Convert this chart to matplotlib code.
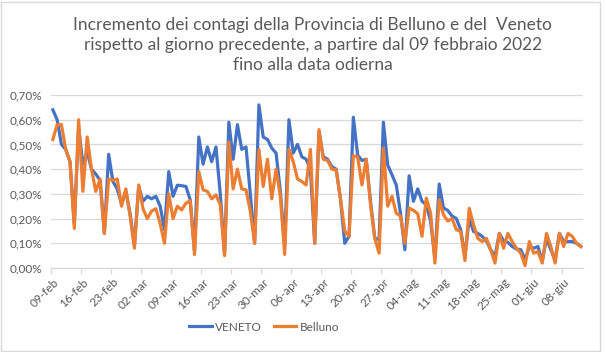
import numpy as np
import pandas as pd
import matplotlib
matplotlib.use("Agg")
import matplotlib.pyplot as plt
from matplotlib.ticker import FuncFormatter, FixedLocator
from matplotlib.patches import Rectangle

# valori giornalieri in %, dal 09-feb-2022 al 12-giu-2022
veneto = [0.64, 0.60, 0.50, 0.48, 0.43, 0.18, 0.57, 0.42, 0.47, 0.40,
          0.38, 0.355, 0.14, 0.46, 0.35, 0.32, 0.26, 0.31, 0.22, 0.09,
          0.33, 0.27, 0.29, 0.28, 0.29, 0.25, 0.155, 0.39, 0.29, 0.335,
          0.333, 0.33, 0.276, 0.07, 0.53, 0.42, 0.49, 0.43, 0.49, 0.30,
          0.055, 0.59, 0.44, 0.58, 0.48, 0.49, 0.30, 0.10, 0.66, 0.53,
          0.52, 0.485, 0.465, 0.31, 0.09, 0.60, 0.465, 0.50, 0.45, 0.44,
          0.40, 0.10, 0.55, 0.45, 0.44, 0.41, 0.40, 0.28, 0.10, 0.128,
          0.61, 0.457, 0.435, 0.44, 0.27, 0.12, 0.115, 0.59, 0.417, 0.377,
          0.336, 0.22, 0.074, 0.373, 0.27, 0.32, 0.27, 0.256, 0.19, 0.04,
          0.34, 0.243, 0.233, 0.21, 0.20, 0.155, 0.05, 0.20, 0.148, 0.14,
          0.128, 0.11, 0.074, 0.047, 0.14, 0.11, 0.104, 0.087, 0.077, 0.074,
          0.034, 0.087, 0.08, 0.087, 0.027, 0.12, 0.074, 0.034, 0.14, 0.107,
          0.107, 0.107, 0.10, 0.087]

belluno = [0.52, 0.58, 0.58, 0.48, 0.43, 0.16, 0.60, 0.31, 0.53, 0.40,
           0.31, 0.36, 0.14, 0.36, 0.355, 0.36, 0.25, 0.32, 0.21, 0.08,
           0.336, 0.24, 0.20, 0.23, 0.24, 0.18, 0.10, 0.30, 0.20, 0.25,
           0.235, 0.262, 0.272, 0.054, 0.39, 0.316, 0.31, 0.28, 0.296, 0.256,
           0.05, 0.51, 0.32, 0.40, 0.32, 0.316, 0.23, 0.10, 0.48, 0.33,
           0.44, 0.28, 0.40, 0.29, 0.055, 0.48, 0.43, 0.36, 0.35, 0.336,
           0.48, 0.10, 0.56, 0.44, 0.435, 0.40, 0.397, 0.28, 0.15, 0.128,
           0.454, 0.45, 0.336, 0.44, 0.256, 0.12, 0.06, 0.485, 0.25, 0.29,
           0.222, 0.21, 0.10, 0.243, 0.233, 0.22, 0.128, 0.283, 0.222, 0.02,
           0.276, 0.215, 0.19, 0.20, 0.155, 0.148, 0.03, 0.242, 0.175, 0.12,
           0.107, 0.12, 0.074, 0.02, 0.14, 0.08, 0.14, 0.107, 0.08, 0.06,
           0.01, 0.107, 0.06, 0.067, 0.02, 0.14, 0.087, 0.02, 0.14, 0.087,
           0.14, 0.128, 0.10, 0.087]

etichette = ["09-feb", "16-feb", "23-feb", "02-mar", "09-mar", "16-mar",
             "23-mar", "30-mar", "06-apr", "13-apr", "20-apr", "27-apr",
             "04-mag", "11-mag", "18-mag", "25-mag", "01-giu", "08-giu"]

titolo = ("Incremento dei contagi della Provincia di Belluno e del  Veneto\n"
          "rispetto al giorno precedente, a partire dal 09 febbraio 2022\n"
          "fino alla data odierna")

blu = "#4472C4"
arancio = "#ED7D31"
grigio = "#595959"

plt.rcParams['font.family'] = ['Lato', 'DejaVu Sans']

fig = plt.figure(figsize=(6.06, 3.52), dpi=100)
ax = fig.add_axes([50.7 / 606, 1 - 268 / 352, (583 - 50.7) / 606, (268 - 95) / 352])

giorni = np.arange(len(veneto))
ax.plot(giorni, veneto, color=blu, lw=2.3, label="VENETO", solid_joinstyle='round')
ax.plot(giorni, belluno, color=arancio, lw=2.3, label="Belluno", solid_joinstyle='round')

ax.set_xlim(-0.5, len(veneto) - 0.5)
ax.set_ylim(0, 0.70)
ax.set_yticks(np.arange(0, 0.71, 0.10))
ax.yaxis.set_major_formatter(FuncFormatter(lambda v, p: f"{v:.2f}".replace(".", ",") + "%"))
ax.grid(axis='y', color='#D9D9D9', lw=0.9)
ax.set_axisbelow(True)

for s in ['top', 'right', 'left']:
    ax.spines[s].set_visible(False)
ax.spines['bottom'].set_color('#D9D9D9')
ax.spines['bottom'].set_linewidth(0.9)

# tacche ai confini delle categorie, etichette sulle categorie
pos_tacche = [7 * k - 0.5 for k in range(len(etichette) + 1)]
ax.xaxis.set_minor_locator(FixedLocator(pos_tacche))
ax.tick_params(axis='x', which='minor', length=4, color='#D9D9D9', width=0.9)
ax.set_xticks([7 * k for k in range(len(etichette))])
ax.set_xticklabels(etichette, rotation=45, ha='right', rotation_mode='anchor')
ax.tick_params(axis='x', which='major', length=0, pad=6, labelsize=8.5, labelcolor=grigio)
ax.tick_params(axis='y', length=0, pad=6, labelsize=8.5, labelcolor=grigio)

fig.text(0.516, 0.952, titolo, ha='center', va='top', fontsize=12.5, color=grigio,
         linespacing=1.32)

ax.legend(loc='lower center', bbox_to_anchor=(0.436, 0.025), bbox_transform=fig.transFigure,
          ncol=2, frameon=False, fontsize=8.5, labelcolor=grigio, handlelength=1.9,
          handletextpad=0.3, columnspacing=1.0)

fig.patches.append(Rectangle((1 / 606, 1 / 352), 599 / 606, 349 / 352, transform=fig.transFigure,
                             fill=False, edgecolor='#D9D9D9', lw=1))

fig.savefig("out.png", dpi=100)
